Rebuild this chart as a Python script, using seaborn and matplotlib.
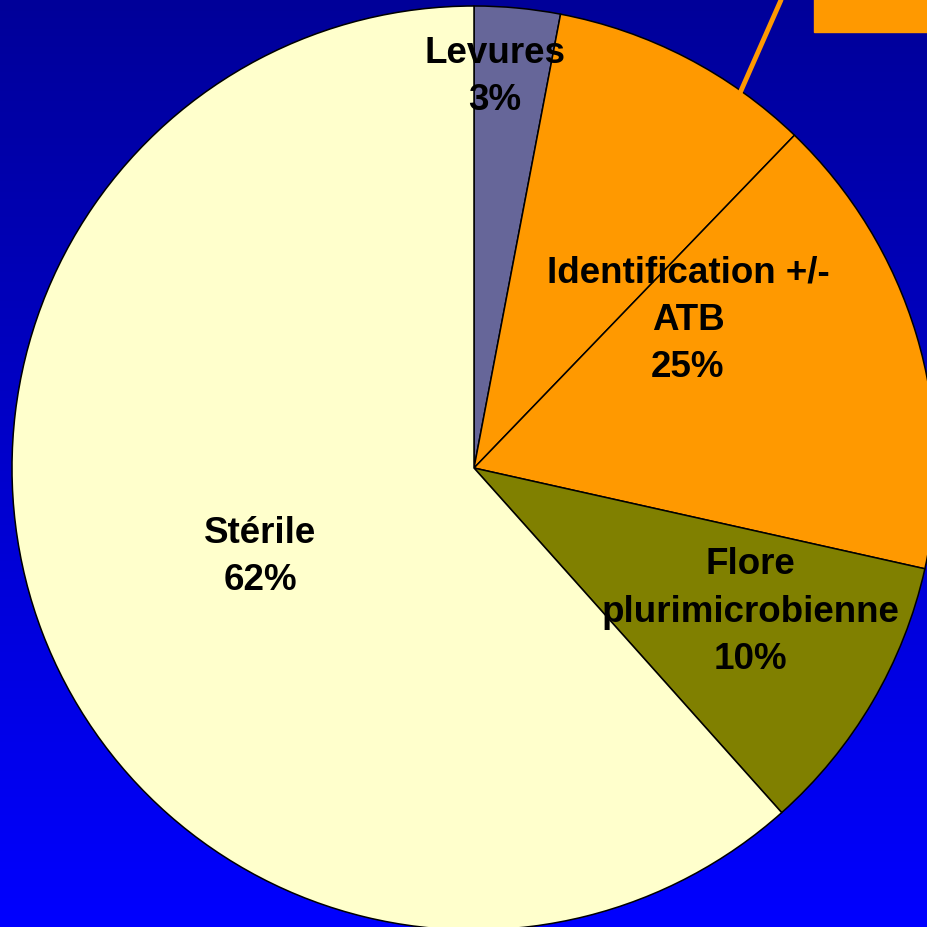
import numpy as np
import seaborn as sns
import matplotlib.pyplot as plt
from matplotlib.colors import LinearSegmentedColormap
from matplotlib.patches import Rectangle

# parts du camembert (en %), dans l'ordre horaire depuis midi
categories = ['Levures', 'Identification', 'Identification +/- ATB', 'Flore plurimicrobienne', 'Stérile']
values = [3.0, 9.2, 16.3, 9.9, 61.6]
colors = ['#666699', '#FF9900', '#FF9900', '#808000', '#FFFFCC']
labels = ['Levures\n3%', 'Identification +/-\nATB\n25%', 'Flore\nplurimicrobienne\n10%', 'Stérile\n62%']
label_pos = [(495, 850), (688, 607), (750, 315), (260, 370)]

sns.set_style('white')
plt.rcParams['font.family'] = ['Liberation Sans', 'DejaVu Sans']

fig = plt.figure(figsize=(9.27, 9.27), dpi=100)
ax = fig.add_axes([0, 0, 1, 1])

# fond dégradé bleu
bg = LinearSegmentedColormap.from_list('bg', ['#0000FF', '#000099'])
grad = np.linspace(0, 1, 256).reshape(-1, 1)
ax.imshow(grad, cmap=bg, extent=[0, 927, 0, 927], origin='lower', aspect='auto', zorder=0)

ax.pie(values, colors=colors, startangle=90, counterclock=False,
       center=(474, 459), radius=462, frame=True,
       wedgeprops=dict(edgecolor='black', linewidth=1.1, zorder=2))

for txt, (x, y) in zip(labels, label_pos):
    ax.text(x, y, txt, ha='center', va='center', fontsize=26.5, fontweight='bold',
            color='black', linespacing=1.46, zorder=5)

# étiquette externe coupée en haut à droite
ax.plot([740, 781], [834, 927], color='#FF9900', lw=3.5, zorder=3)
ax.add_patch(Rectangle((814, 895), 113, 40, color='#FF9900', zorder=3))

ax.set_xlim(0, 927)
ax.set_ylim(0, 927)
ax.set_aspect('equal')
ax.axis('off')

plt.savefig('out.png', dpi=100)
plt.close()
